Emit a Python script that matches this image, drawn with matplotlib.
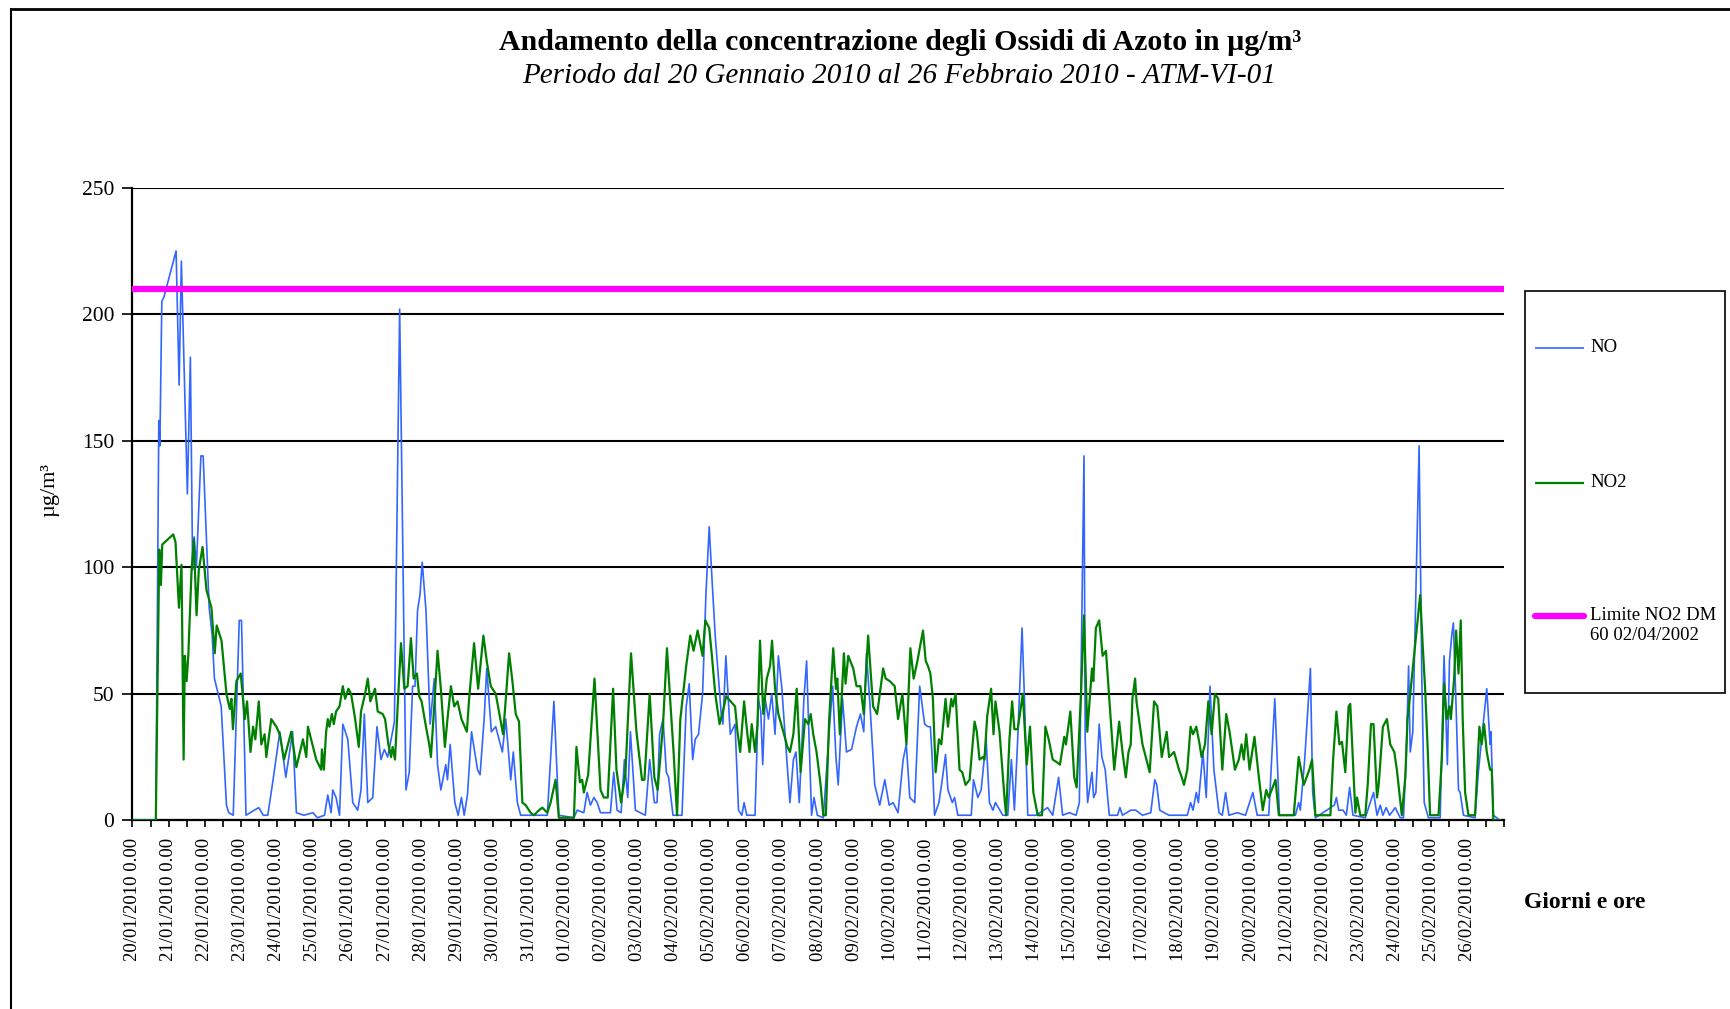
import matplotlib
matplotlib.use("Agg")
import matplotlib.pyplot as plt
from matplotlib.lines import Line2D
from matplotlib.patches import Rectangle
from matplotlib.ticker import FixedLocator, MultipleLocator

plt.rcParams['font.family'] = ['Liberation Serif', 'DejaVu Serif']

# ---------------- data (hours since 20/01/2010 0.00, µg/m3) ----------------
no_points = [
    (0, 0), (15.5, 0), (17.5, 158), (18.2, 148), (19.5, 205), (21, 207), (29, 225), (31, 172),
    (32.5, 221), (36.5, 129), (38.5, 183), (40, 99), (41, 112), (42.5, 100), (45.5, 144), (47, 144),
    (51, 84), (53, 73), (54.5, 56), (57, 50), (59, 45), (62.5, 6), (64, 3), (67, 2), (71, 79),
    (72.5, 79), (75.5, 2), (81, 4), (84, 5), (87, 2), (90, 2), (93.5, 16), (98, 35), (102, 17),
    (106.5, 35), (109, 3), (114, 2), (120, 3), (123, 1),
    (127.7, 2), (129.9, 10), (132.1, 3), (133.2, 12), (135.4, 9), (137.7, 2), (139.9, 38),
    (143.2, 32), (146.5, 7), (149.8, 4), (152, 12), (154.2, 42), (156.5, 7), (159.8, 9),
    (162.6, 37), (165.3, 24), (167.5, 28), (169.7, 25), (173, 35), (174.2, 39), (177.7, 202),
    (181.9, 12), (184.1, 19), (186.3, 53), (187.9, 53), (189.6, 83), (191.2, 89), (192.7, 102),
    (195.2, 83), (198, 38), (200.7, 56), (202.9, 22), (205.1, 12), (208.4, 22), (209.5, 16),
    (211.3, 30), (214.4, 7), (216.6, 2), (218.8, 9), (220.6, 2), (222.8, 10), (225.5, 35),
    (229.5, 20), (231.2, 18), (233.9, 40), (235.6, 60), (238.7, 35), (241.6, 37), (246, 27),
    (248.3, 40), (251.6, 16), (253.3, 27), (256, 7), (258.2, 2), (264.8, 2),
    (275.9, 2), (280.3, 47), (283.6, 2), (293.6, 1), (295.8, 4), (300.2, 3), (302.4, 11),
    (304.6, 6), (306.9, 9), (309.1, 7), (311.3, 3), (317.9, 3), (320.1, 19), (322.3, 4), (325, 3),
    (327.2, 24), (329.4, 9), (331.2, 35), (334.5, 4), (341.1, 2), (344, 24), (347.1, 7),
    (348.9, 7), (350.6, 34), (352.9, 40), (355.1, 19), (356.6, 17), (359.5, 2), (365.5, 2),
    (368.3, 45), (370.3, 54), (372.6, 24), (374.3, 32), (376.5, 34), (379.2, 50), (381.4, 89),
    (383.6, 116), (385.4, 96), (387.6, 73), (391.6, 42), (392.7, 38), (394.7, 65), (397.6, 34),
    (400.8, 38), (403.1, 4), (405.3, 2), (406.8, 7), (408.6, 2), (414.1, 2), (416.3, 48),
    (417.9, 43), (419.2, 22), (420.8, 48), (423, 40), (425.2, 50), (427.4, 34), (429.6, 65),
    (431.8, 53), (435.1, 25), (437.3, 7), (439.6, 24), (441.3, 27), (443.5, 7), (446.6, 48),
    (448.4, 63), (449.7, 38), (451.7, 2), (453.3, 9), (455.5, 2), (459.5, 1), (463.4, 35),
    (465.7, 53), (467.9, 25), (469.4, 14), (472.3, 48), (474.9, 27), (478.3, 28), (481.6, 37),
    (484.2, 42), (486.4, 35), (488.2, 66), (490.4, 47), (493.7, 14), (497, 6), (500.4, 16),
    (503.3, 6), (505.9, 7), (509.2, 3), (512.6, 24), (514.7, 30), (517, 9), (520.3, 7),
    (523.6, 53), (526.9, 38), (529.1, 37),
    (530.7, 37), (532, 24), (533.5, 2), (536.4, 7), (538.6, 16), (540.8, 26), (542.4, 12),
    (545.3, 7), (546.8, 9), (549, 2), (557.9, 2), (559.4, 16), (562.3, 9), (564.5, 12),
    (567.8, 32), (570, 7), (572.3, 4), (574, 7), (578.9, 2), (582.2, 2), (584.6, 24), (586.6, 4),
    (588.8, 32), (591.7, 76), (593.3, 48), (595.5, 2), (601, 2), (608.7, 5), (612.1, 2), (616, 17),
    (618.7, 2), (623.1, 3), (627.6, 2), (629.8, 7), (632.9, 144), (633.7, 32), (635.3, 7),
    (638.2, 19), (639.3, 9), (640.8, 11), (643, 38), (644.8, 25), (647, 20), (649.7, 2),
    (655.2, 2), (656.8, 5), (658.5, 2),
    (664, 4), (667.3, 4), (671.8, 2), (677.3, 3), (680, 16), (681.3, 14), (683.3, 4), (686.2, 3),
    (689.5, 2), (701.6, 2), (703.8, 7), (705.4, 4), (707.6, 11), (709, 7), (712, 27), (714.2, 9),
    (716.7, 53), (719.3, 20), (722.7, 3), (724.9, 2), (727.1, 11), (729.3, 2), (734.8, 3),
    (740.3, 2), (745.2, 11), (748.1, 2), (755.8, 2), (759.8, 48), (762.9, 2), (773.5, 2),
    (775.7, 7), (776.8, 4), (779.7, 24), (783.5, 60), (785, 11), (786.8, 1),
    (799.4, 6), (800.8, 9), (802.3, 4), (805.2, 4), (807.4, 2), (809.6, 13), (811.8, 2), (820, 1),
    (823.3, 7), (825.5, 11), (827.8, 2), (830, 6), (831.7, 2), (833.9, 5), (836.2, 2), (839.9, 5),
    (843.2, 1), (845.4, 1), (847.2, 24), (848.8, 61), (849.9, 27), (851.6, 35), (855.8, 148),
    (857.6, 56), (859.2, 7), (862, 1), (869.8, 1), (872.4, 65), (874.6, 22), (876, 63),
    (877.5, 73), (878.6, 78), (880.4, 45), (882, 12), (883.1, 11), (885.3, 2), (893, 1),
    (895.2, 19), (897.4, 32), (900.8, 52), (903, 30), (903.6, 35), (905.2, 2), (909.6, 0),
]

no2_points = [
    (0, 0), (15.5, 0), (17.8, 107), (18.9, 93), (19.8, 109), (27.1, 113), (28.6, 110), (30.9, 84),
    (32.6, 101), (34, 24), (34.8, 65), (36, 55), (37.1, 65), (39.3, 99), (40.8, 111), (42.6, 81),
    (44.1, 99), (46.6, 108), (49.2, 91), (52.5, 84), (54.7, 66), (56, 77), (59.2, 71), (62.5, 50),
    (64.7, 44), (65.8, 48), (66.8, 36), (69.1, 55), (72, 58), (74.7, 40), (76.2, 47), (78.5, 27),
    (80.2, 37), (81.7, 32), (84, 47), (85.7, 30), (87.9, 34), (89, 25), (92.3, 40), (95.7, 37),
    (97.9, 34), (100.8, 24), (105.6, 35), (109, 21), (113.4, 32), (115.6, 25), (116.7, 37),
    (122.2, 24), (125.5, 20), (126, 28), (127.3, 20),
    (128.8, 35), (129.9, 40), (131, 37), (132.6, 42), (133.9, 38), (135.4, 43), (137.7, 45),
    (139.9, 53), (141.4, 48), (143.6, 52), (145.4, 50), (148.1, 40), (150.5, 29), (152, 43),
    (154.7, 50), (156.5, 56), (158.2, 47), (161.3, 52), (163.1, 43), (166.4, 42), (168, 40),
    (170.2, 30), (172, 25), (173, 29), (174.6, 24), (176.8, 50), (178.6, 70), (180.8, 52),
    (183, 53), (185.2, 72), (187, 56), (189.2, 58), (190.7, 49), (192.3, 47), (195.2, 37),
    (197.4, 30), (198.5, 25), (200.7, 45), (202.9, 67), (205.1, 52), (207.8, 29), (209.5, 40),
    (211.8, 53), (214, 45), (216.2, 47), (218.8, 40), (222.4, 35), (223.9, 48), (227.2, 70),
    (229.9, 52), (233.4, 73), (235.6, 63), (238.3, 53), (241.6, 50), (246.5, 34), (248.3, 48),
    (250.5, 66), (252.7, 55), (254.9, 42), (257.1, 39), (259.3, 7), (261.5, 6), (264.8, 3),
    (267, 2), (270.4, 4), (272.6, 5), (275.9, 3), (278.1, 7), (281.4, 16), (283.6, 1), (293.6, 1),
    (295.3, 29), (297.6, 15), (299.1, 16), (300.2, 11), (303.1, 18), (307.3, 56), (311.3, 12),
    (313.5, 9), (316.1, 9), (319.7, 52), (321.9, 20), (325, 7), (327.9, 19), (331.6, 66),
    (335.2, 35), (338.9, 16), (340.5, 16), (344, 50), (347.1, 17), (349.3, 12), (352.9, 38),
    (355.5, 68), (357.7, 47), (359.9, 27), (362.2, 2), (364.4, 40), (368.3, 61), (371, 73),
    (373.2, 67), (375.9, 75), (379.2, 65), (381, 79), (383.6, 76), (385.4, 65), (387.6, 50),
    (390.5, 38), (392.7, 43), (394.9, 49), (399.3, 46),
    (400.8, 45), (402.4, 35), (404.2, 27), (406.8, 47), (409, 34), (410.4, 27), (411.9, 38),
    (414.1, 27), (415.7, 38), (417.4, 71), (419.6, 42), (421.9, 56), (424.1, 61), (425.4, 71),
    (427.4, 52), (429.6, 42), (432.9, 35), (435.6, 29), (437.3, 27), (439.6, 34), (441.8, 52),
    (444.4, 19), (447.3, 40), (449.5, 38), (451.1, 42), (452.8, 34), (455, 27), (457.7, 14),
    (459.5, 2), (461.2, 2), (463.4, 40), (466.1, 68), (467.9, 52), (468.8, 56), (470.5, 34),
    (473.2, 66), (474.3, 54), (476.1, 65), (479.4, 60), (481.6, 53), (484.2, 53), (486.4, 42),
    (489.3, 73), (492.6, 45), (495.3, 42), (499.3, 60), (501, 56), (503.7, 55), (507, 53),
    (509.2, 40), (512.1, 50), (514.8, 30), (517.4, 68), (519.6, 56), (522.1, 63), (525.8, 75),
    (527.6, 63), (529.1, 61), (530.7, 58), (532.4, 48), (534.2, 19), (536.4, 32), (538, 30),
    (540.8, 48), (542.4, 37), (544.6, 48), (545.7, 45), (547.5, 50), (550.1, 20), (551.9, 19),
    (554.1, 14), (556.8, 16), (560.1, 39), (561.6, 35), (563.4, 24), (565.6, 25), (566.7, 24),
    (568.5, 41), (571.1, 52), (572.7, 34), (574, 47), (576.7, 35), (580, 9), (581.1, 2),
    (583.3, 32), (585.1, 47), (586.6, 36), (588.8, 36), (592.2, 50), (594.8, 22), (597, 37),
    (599.2, 11), (602.1, 2), (605, 2), (607.2, 37), (609.4, 32), (612.1, 24), (614.7, 23),
    (616.9, 22), (619.8, 33), (620.9, 30), (623.8, 43), (626.4, 17), (628, 13), (630.9, 50),
    (632.9, 81), (635.1, 35), (638.2, 60), (639.1, 55), (640.8, 76), (643, 79), (645.3, 65),
    (647.5, 67), (649.7, 48), (653, 20), (656.3, 39), (658.5, 27), (660.7, 17), (662.5, 27),
    (664, 30), (665.1, 48), (666.9, 56), (667.8, 47), (671.8, 30), (676.6, 19), (679.5, 47),
    (681.7, 45), (684.6, 25), (687.9, 35), (689.5, 25), (692.8, 27), (696.1, 20), (697.9, 17),
    (699.4, 14), (701.6, 20), (703.8, 37), (705.4, 34), (707.6, 37), (709.8, 30), (711.1, 25),
    (713.4, 30), (715.6, 47), (717.8, 34), (720, 50), (722.2, 48), (724.9, 20), (727.5, 42),
    (729.7, 35), (733.3, 20), (735.9, 24), (737.7, 30), (739.2, 24), (740.8, 34), (743, 20),
    (746.3, 33), (749.2, 17), (751.8, 4), (754.1, 12), (755.8, 9), (760.3, 16), (762.5, 2),
    (772.4, 2), (775.7, 25), (779.1, 14), (782.8, 20), (784.6, 24), (786.8, 2),
    (796.8, 2), (798.6, 24), (800.8, 43), (802.8, 30), (804.5, 31), (806.7, 19), (808.9, 45),
    (810, 46), (812.3, 17), (813.4, 3), (814.5, 9), (816.7, 2), (820, 2), (821.6, 14),
    (823.8, 38), (825.5, 38), (827.8, 9), (828.9, 14), (831.7, 37), (834.4, 40), (836.6, 30),
    (839.3, 27), (841, 20), (844.3, 2), (846.6, 17), (848.1, 40), (849.9, 50), (856.5, 89),
    (858.3, 68), (859.8, 52), (861.4, 30), (863.1, 2), (868.7, 2), (870.9, 24), (872.4, 54),
    (874.2, 40), (876, 45), (876.9, 40), (879.1, 56), (880.4, 75), (882, 58), (883.5, 79),
    (884.8, 40), (886.4, 11), (888.6, 2), (893, 2), (895.9, 37), (897.4, 30), (899, 38),
    (900.8, 27), (903, 20), (904.1, 20), (905.2, 0), (909.6, 0),
]

limit_value = 210  # Limite NO2 DM 60 02/04/2002

day_labels = [
    "20/01/2010 0.00", "21/01/2010 0.00", "22/01/2010 0.00", "23/01/2010 0.00",
    "24/01/2010 0.00", "25/01/2010 0.00", "26/01/2010 0.00", "27/01/2010 0.00",
    "28/01/2010 0.00", "29/01/2010 0.00", "30/01/2010 0.00", "31/01/2010 0.00",
    "01/02/2010 0.00", "02/02/2010 0.00", "03/02/2010 0.00", "04/02/2010 0.00",
    "05/02/2010 0.00", "06/02/2010 0.00", "07/02/2010 0.00", "08/02/2010 0.00",
    "09/02/2010 0.00", "10/02/2010 0.00", "11/02/2010 0.00", "12/02/2010 0.00",
    "13/02/2010 0.00", "14/02/2010 0.00", "15/02/2010 0.00", "16/02/2010 0.00",
    "17/02/2010 0.00", "18/02/2010 0.00", "19/02/2010 0.00", "20/02/2010 0.00",
    "21/02/2010 0.00", "22/02/2010 0.00", "23/02/2010 0.00", "24/02/2010 0.00",
    "25/02/2010 0.00", "26/02/2010 0.00",
]
y_ticks = [0, 50, 100, 150, 200, 250]
total_hours = 912

series_names = ["NO", "NO2", "Limite NO2 DM\n60 02/04/2002"]
c_no, c_no2, c_lim = "#3366FF", "#008000", "#FF00FF"

# ---------------- figure ----------------
W, H = 1731, 1009
fig = plt.figure(figsize=(W / 100, H / 100), dpi=100)

def fx(px):
    return px / W

def fy(py):
    return 1 - py / H

ax = fig.add_axes([fx(132.5), fy(820.3), fx(1503.6) - fx(132.5), fy(187.7) - fy(820.3)])

no_h, no_v = zip(*no_points)
no2_h, no2_v = zip(*no2_points)
ax.plot(no_h, no_v, color=c_no, lw=1.2, zorder=3)
ax.plot(no2_h, no2_v, color=c_no2, lw=1.6, zorder=4)
ax.plot([0, total_hours], [limit_value, limit_value], color=c_lim, lw=4.5,
        solid_capstyle='butt', zorder=5)

ax.set_xlim(0, total_hours)
ax.set_ylim(0, 250)

ax.set_yticks(y_ticks)
ax.set_yticklabels([str(v) for v in y_ticks])
ax.yaxis.grid(True, color='black', lw=1.5)
ax.set_axisbelow(True)

major_pos = [24 * i for i in range(len(day_labels))]
ax.xaxis.set_major_locator(FixedLocator(major_pos))
ax.set_xticklabels(day_labels, rotation=90, fontsize=13.5)
ax.xaxis.set_minor_locator(MultipleLocator(12))

for s in ['top', 'right']:
    ax.spines[s].set_visible(False)
for s in ['left', 'bottom']:
    ax.spines[s].set_color('black')
    ax.spines[s].set_linewidth(1.6)

ax.tick_params(axis='x', which='both', direction='out', length=5, width=1.2, pad=8)
ax.tick_params(axis='y', which='major', direction='out', length=7, width=1.2,
               labelsize=15.5, pad=6)

# titles
fig.text(fx(900), fy(42), "Andamento della concentrazione degli Ossidi di Azoto in µg/m³",
         ha='center', va='center', fontsize=21.5, fontweight='bold')
fig.text(fx(899), fy(76), "Periodo dal 20 Gennaio 2010 al 26 Febbraio 2010 - ATM-VI-01",
         ha='center', va='center', fontsize=21, fontstyle='italic')

fig.text(fx(50), fy(490), "µg/m³", rotation=90, ha='center', va='center', fontsize=16)
fig.text(fx(1585), fy(903), "Giorni e ore", ha='center', va='center', fontsize=17,
         fontweight='bold')

# outer frame (left and top)
fig.add_artist(Line2D([fx(11), fx(11)], [fy(9), 0], color='black', lw=1.5))
fig.add_artist(Line2D([fx(11), 1], [fy(9), fy(9)], color='black', lw=2))

# legend box
fig.add_artist(Rectangle((fx(1525), fy(693)), fx(1725) - fx(1525), fy(291) - fy(693),
                         fill=False, edgecolor='black', lw=1.2))
leg = [(c_no, 1.2, 348, 'butt'), (c_no2, 1.6, 483, 'butt'), (c_lim, 4.5, 616, 'round')]
for (col, lw, yy, cap), name in zip(leg, series_names):
    fig.add_artist(Line2D([fx(1535), fx(1584)], [fy(yy), fy(yy)], color=col, lw=lw,
                          solid_capstyle=cap))
    fig.text(fx(1590), fy(yy - 9), name, ha='left', va='top', fontsize=13.5,
             linespacing=1.2)

fig.savefig("out.png", dpi=100)
